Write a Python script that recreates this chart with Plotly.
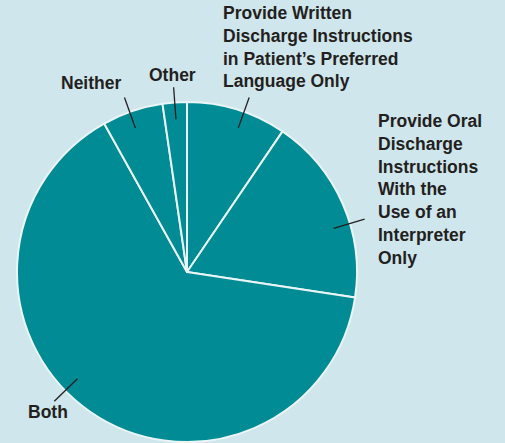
import math
import plotly.graph_objects as go

W, H = 505, 443

# ---- data ----
categories = [
    "Provide Written<br>Discharge Instructions<br>in Patient’s Preferred<br>Language Only",
    "Provide Oral<br>Discharge<br>Instructions<br>With the<br>Use of an<br>Interpreter<br>Only",
    "Both",
    "Neither",
    "Other",
]
values = [9.5, 17.9, 64.5, 5.8, 2.3]

# ---- style / layout ----
TEAL = "#008b95"
BG = "#cfe6ec"
TEXT = "#231f20"
FONT = "Liberation Sans"

cx, cy, R = 187, 272, 170  # pie centre & radius in px
leader_offset = [2.5, 7, 11, -1, 0]   # degrees of label-leader shift
label_pos = [  # (x px, y px, xanchor)
    (221, 47, "left"),
    (376, 189, "left"),
    (48, 412, "center"),
    (91, 83, "center"),
    (172, 75, "center"),
]

fig = go.Figure(go.Pie(
    labels=categories,
    values=values,
    sort=False,
    direction="clockwise",
    rotation=0,
    textinfo="none",
    hoverinfo="label+percent",
    marker=dict(colors=[TEAL] * len(values), line=dict(color="#eaf5f7", width=2)),
    domain=dict(x=[(cx - R) / W, (cx + R) / W], y=[(H - cy - R) / H, (H - cy + R) / H]),
    showlegend=False,
))

total = sum(values)
shapes, annotations = [], []
cum = 0.0
for i, v in enumerate(values):
    mid = (cum + v / 2) / total * 360 + leader_offset[i]
    cum += v
    a = math.radians(mid)
    x0, y0 = cx + 0.9 * R * math.sin(a), cy - 0.9 * R * math.cos(a)
    x1, y1 = cx + 1.09 * R * math.sin(a), cy - 1.09 * R * math.cos(a)
    shapes.append(dict(type="line", xref="paper", yref="paper",
                       x0=x0 / W, y0=1 - y0 / H, x1=x1 / W, y1=1 - y1 / H,
                       line=dict(color=TEXT, width=1.3)))
    lx, ly, anc = label_pos[i]
    annotations.append(dict(
        text="<b>" + categories[i] + "</b>", xref="paper", yref="paper",
        x=lx / W, y=1 - ly / H, xanchor=anc, yanchor="middle", align="left",
        showarrow=False, font=dict(family=FONT, size=17.5, color=TEXT)))

fig.update_layout(
    width=W, height=H,
    margin=dict(l=0, r=0, t=0, b=0),
    paper_bgcolor=BG, plot_bgcolor=BG,
    shapes=shapes, annotations=annotations,
)
fig.write_html("out.html")
